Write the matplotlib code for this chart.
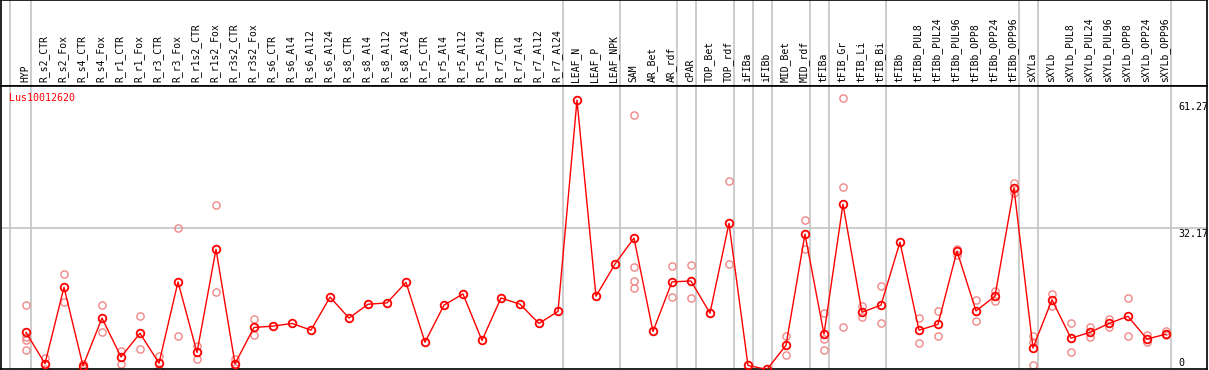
import matplotlib
matplotlib.use("Agg")
import matplotlib.pyplot as plt

# tissue / condition labels (one column each)
samples = [
    "HYP",
    "R_s2_CTR", "R_s2_Fox", "R_s4_CTR", "R_s4_Fox", "R_r1_CTR", "R_r1_Fox",
    "R_r3_CTR", "R_r3_Fox", "R_r1s2_CTR", "R_r1s2_Fox", "R_r3s2_CTR", "R_r3s2_Fox",
    "R_s6_CTR", "R_s6_Al4", "R_s6_Al12", "R_s6_Al24",
    "R_s8_CTR", "R_s8_Al4", "R_s8_Al12", "R_s8_Al24",
    "R_r5_CTR", "R_r5_Al4", "R_r5_Al12", "R_r5_Al24",
    "R_r7_CTR", "R_r7_Al4", "R_r7_Al12", "R_r7_Al24",
    "LEAF_N", "LEAF_P", "LEAF_NPK",
    "SAM", "AR_Bet", "AR_rdf", "cPAR", "TOP_Bet", "TOP_rdf",
    "iFIBa", "iFIBb", "MID_Bet", "MID_rdf", "tFIBa",
    "tFIB_Gr", "tFIB_Li", "tFIB_Bi", "tFIBb",
    "tFIBb_PUL8", "tFIBb_PUL24", "tFIBb_PUL96", "tFIBb_OPP8", "tFIBb_OPP24", "tFIBb_OPP96",
    "sXYLa", "sXYLb",
    "sXYLb_PUL8", "sXYLb_PUL24", "sXYLb_PUL96", "sXYLb_OPP8", "sXYLb_OPP24", "sXYLb_OPP96",
]

# mean expression per sample
means = [
    8.8,
    1.8, 18.9, 1.3, 12.0, 3.3, 8.6, 1.9, 20.1, 4.3, 27.4, 1.8, 9.9,
    10.2, 10.8, 9.3, 16.7,
    12.0, 15.1, 15.4, 20.0,
    6.6, 14.9, 17.4, 7.0,
    16.5, 15.1, 10.8, 13.5,
    60.8, 16.9, 24.1,
    29.9, 9.0, 20.1, 20.3, 13.1, 33.2,
    1.4, 0.5, 5.9, 30.8, 8.4,
    37.5, 13.3, 14.9, 29.0,
    9.3, 10.6, 27.0, 13.6, 16.9, 41.1,
    5.3, 16.1,
    7.5, 8.8, 10.8, 12.4, 7.3, 8.4,
]

# individual replicates (empty where hidden under the mean)
replicates = [
    [14.9, 7.8, 7.1, 4.8],
    [3.0, 0.6], [21.8, 15.7], [1.7, 0.9], [14.9, 8.8], [4.7, 1.7], [12.5, 5.0],
    [3.6, 0.5], [32.1, 7.9], [5.8, 2.8], [37.3, 17.8], [2.8, 0.8], [11.7, 8.2],
    [], [], [], [],
    [], [], [], [],
    [], [], [], [],
    [], [], [], [],
    [], [], [],
    [57.5, 23.4, 20.3, 18.7], [], [23.7, 16.7], [23.9, 16.4], [], [42.6, 24.1],
    [], [], [8.0, 3.8], [34.0, 27.5], [13.1, 7.4, 4.8],
    [61.27, 41.3, 9.9], [14.6, 12.2], [19.1, 10.8], [],
    [12.0, 6.4], [13.6, 7.9], [27.5, 26.2], [16.0, 11.3], [18.1, 15.8], [42.2, 40.1],
    [8.0, 6.7, 1.4], [17.3, 14.6],
    [10.8, 4.3], [10.0, 7.8], [11.7, 9.9], [16.4, 8.1], [8.2, 6.6], [9.0, 8.2],
]

# index of the last sample in each group (separator drawn after it)
group_ends = [0, 28, 31, 34, 35, 37, 38, 39, 41, 42, 45, 52, 53, 60]

gene = "Lus10012620"
y_max = 61.27
y_mid = 32.17

W, H = 1209, 370
fig = plt.figure(figsize=(W / 100, H / 100), dpi=100)
mono = "DejaVu Sans Mono"
grey = "#c4c4c4"

xlim = (-1.316, 62.16)
head = fig.add_axes([1 / W, 1 - 86 / H, 1206 / W, 86 / H])
ax = fig.add_axes([1 / W, 1 / H, 1206 / W, 283 / H])

for a in (head, ax):
    a.set_xlim(*xlim)
    a.set_xticks([])
    a.set_yticks([])
    for s in a.spines.values():
        s.set_color("black")
        s.set_linewidth(1.2)
    a.axvline(-0.85, color=grey, lw=1.2, zorder=0)
    for g in group_ends:
        a.axvline(g + 0.25, color=grey, lw=1.2, zorder=0)

head.set_ylim(0, 1)
for i, name in enumerate(samples):
    head.text(i - 0.05, 0.05, name, rotation=90, ha="center", va="bottom",
              fontsize=7, family=mono)

ax.set_ylim(0.6, 63.96)
ax.axhline(y_mid, color=grey, lw=1.2, zorder=0)

xs = list(range(len(samples)))
for i, reps in enumerate(replicates):
    if reps:
        ax.plot([i] * len(reps), reps, "o", ms=5.2, mfc="none", mec="#f08888",
                mew=1.0, zorder=2)

ax.plot(xs, means, "-", color="red", lw=1.0, zorder=3)
ax.plot(xs, means, "o", ms=5.5, mfc="none", mec="red", mew=1.3, zorder=4)

ax.text(-0.88, 61.3, gene, color="red", fontsize=7.2, family=mono,
        ha="left", va="center")
ax.text(60.63, y_max - 0.8, f"{y_max:.2f}", fontsize=7.2, family=mono,
        ha="left", va="top")
ax.text(60.63, y_mid - 0.3, f"{y_mid:.2f}", fontsize=7.2, family=mono,
        ha="left", va="top")
ax.text(60.63, 0.9, "0", fontsize=7.2, family=mono, ha="left", va="bottom")

fig.savefig("out.png", dpi=100)
